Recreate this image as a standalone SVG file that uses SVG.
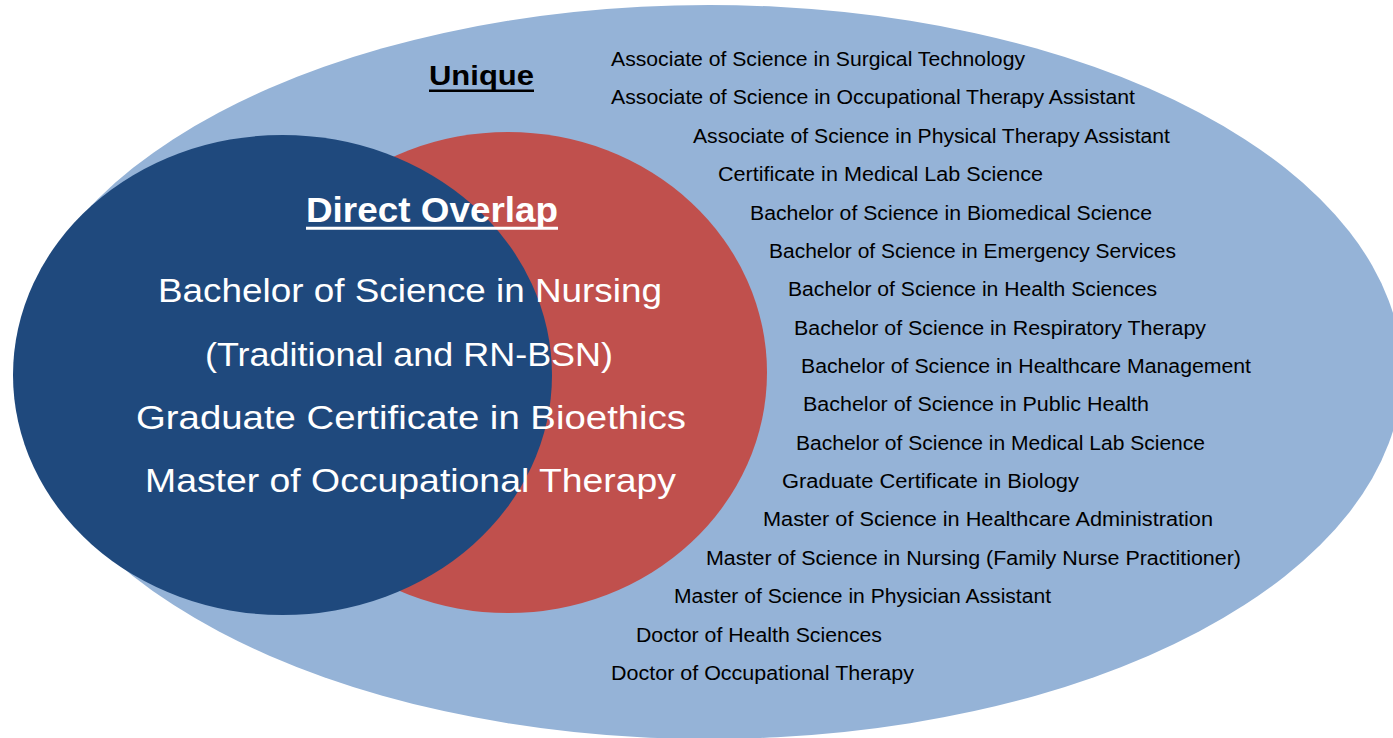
<svg xmlns="http://www.w3.org/2000/svg" width="1393" height="738" viewBox="0 0 1393 738">
<style>
.item{font-family:"Liberation Sans",Arial,sans-serif;font-size:20px;fill:#000}
.big{font-family:"Liberation Sans",Arial,sans-serif;font-size:33px;fill:#fff}
.head{font-family:"Liberation Sans",Arial,sans-serif;font-weight:bold}
</style>
<rect width="1393" height="738" fill="#fff"/>
<g id="unique-set">
<ellipse cx="709" cy="372" rx="693" ry="367" fill="#95B3D7"/>
<text class="head" x="429" y="85" font-size="28" textLength="105" lengthAdjust="spacingAndGlyphs" fill="#000">Unique</text>
<line x1="429" y1="90.8" x2="534" y2="90.8" stroke="#000" stroke-width="2.5"/>
<text class="item" x="611" y="66" textLength="414" lengthAdjust="spacingAndGlyphs">Associate of Science in Surgical Technology</text>
<text class="item" x="611" y="104.4" textLength="524" lengthAdjust="spacingAndGlyphs">Associate of Science in Occupational Therapy Assistant</text>
<text class="item" x="693" y="142.7" textLength="477" lengthAdjust="spacingAndGlyphs">Associate of Science in Physical Therapy Assistant</text>
<text class="item" x="718" y="181.1" textLength="325" lengthAdjust="spacingAndGlyphs">Certificate in Medical Lab Science</text>
<text class="item" x="750" y="219.5" textLength="402" lengthAdjust="spacingAndGlyphs">Bachelor of Science in Biomedical Science</text>
<text class="item" x="769" y="257.9" textLength="407" lengthAdjust="spacingAndGlyphs">Bachelor of Science in Emergency Services</text>
<text class="item" x="788" y="296.2" textLength="369" lengthAdjust="spacingAndGlyphs">Bachelor of Science in Health Sciences</text>
<text class="item" x="794" y="334.6" textLength="412" lengthAdjust="spacingAndGlyphs">Bachelor of Science in Respiratory Therapy</text>
<text class="item" x="801" y="373" textLength="450" lengthAdjust="spacingAndGlyphs">Bachelor of Science in Healthcare Management</text>
<text class="item" x="803" y="411.3" textLength="346" lengthAdjust="spacingAndGlyphs">Bachelor of Science in Public Health</text>
<text class="item" x="796" y="449.7" textLength="409" lengthAdjust="spacingAndGlyphs">Bachelor of Science in Medical Lab Science</text>
<text class="item" x="782" y="488.1" textLength="297" lengthAdjust="spacingAndGlyphs">Graduate Certificate in Biology</text>
<text class="item" x="763" y="526.4" textLength="450" lengthAdjust="spacingAndGlyphs">Master of Science in Healthcare Administration</text>
<text class="item" x="706" y="564.8" textLength="535" lengthAdjust="spacingAndGlyphs">Master of Science in Nursing (Family Nurse Practitioner)</text>
<text class="item" x="674" y="603.2" textLength="377" lengthAdjust="spacingAndGlyphs">Master of Science in Physician Assistant</text>
<text class="item" x="636" y="641.6" textLength="246" lengthAdjust="spacingAndGlyphs">Doctor of Health Sciences</text>
<text class="item" x="611" y="680" textLength="303" lengthAdjust="spacingAndGlyphs">Doctor of Occupational Therapy</text>
</g>
<g id="red-set">
<ellipse cx="508" cy="372.5" rx="259" ry="240.5" fill="#C0504D"/>
</g>
<g id="blue-set">
<ellipse cx="282.5" cy="375" rx="269.5" ry="240" fill="#1F497D"/>
</g>
<g id="overlap">
<text class="head" x="306" y="221.7" font-size="35" textLength="252" lengthAdjust="spacingAndGlyphs" fill="#fff">Direct Overlap</text>
<line x1="306" y1="228.3" x2="558" y2="228.3" stroke="#fff" stroke-width="3"/>
<text class="big" x="158" y="302" textLength="504" lengthAdjust="spacingAndGlyphs">Bachelor of Science in Nursing</text>
<text class="big" x="205" y="365.5" textLength="408" lengthAdjust="spacingAndGlyphs">(Traditional and RN-BSN)</text>
<text class="big" x="136" y="428.5" textLength="550" lengthAdjust="spacingAndGlyphs">Graduate Certificate in Bioethics</text>
<text class="big" x="145" y="491.5" textLength="531" lengthAdjust="spacingAndGlyphs">Master of Occupational Therapy</text>
</g>
<g id="connectors"/>
</svg>
